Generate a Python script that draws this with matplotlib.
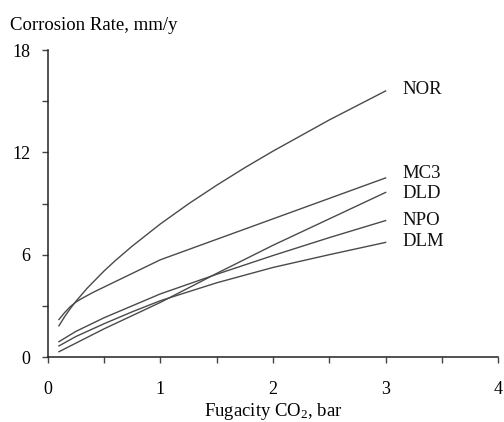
import matplotlib
matplotlib.use("Agg")
import matplotlib.pyplot as plt
from matplotlib.ticker import MultipleLocator

plt.rcParams['font.family'] = ['Liberation Serif', 'DejaVu Serif']
plt.rcParams['mathtext.fontset'] = 'custom'
plt.rcParams['mathtext.rm'] = 'Liberation Serif'
plt.rcParams['mathtext.it'] = 'Liberation Serif:italic'

# fugacity CO2 (bar) and corrosion rate (mm/y)
x_nor = [0.1, 0.15, 0.2, 0.25, 0.35, 0.5, 0.6, 0.75, 1.0, 1.25, 1.5, 1.75, 2.0, 2.5, 3.0]
nor = [1.83, 2.36, 2.83, 3.26, 4.03, 5.04, 5.65, 6.5, 7.8, 8.98, 10.07, 11.1, 12.07, 13.9, 15.6]

x_mc3 = [0.1, 0.15, 0.2, 0.25, 0.3, 0.4, 0.5, 0.75, 1.0, 2.0, 3.0]
mc3 = [2.2, 2.6, 2.95, 3.22, 3.42, 3.78, 4.1, 4.9, 5.7, 8.1, 10.5]

x_dld = [0.1, 0.5, 1.0, 1.5, 2.0, 2.5, 3.0]
dld = [0.31, 1.65, 3.2, 4.9, 6.55, 8.1, 9.65]

x_npo = [0.1, 0.25, 0.5, 0.75, 1.0, 1.5, 2.0, 2.5, 3.0]
npo = [0.9, 1.5, 2.3, 3.0, 3.7, 4.85, 5.95, 7.0, 8.0]

x_dlm = [0.1, 0.25, 0.5, 0.75, 1.0, 1.5, 2.0, 2.5, 3.0]
dlm = [0.65, 1.2, 1.95, 2.65, 3.3, 4.35, 5.25, 6.0, 6.72]

series = [
    ("NOR", x_nor, nor, 15.7),
    ("MC3", x_mc3, mc3, 10.75),
    ("DLD", x_dld, dld, 9.6),
    ("NPO", x_npo, npo, 8.0),
    ("DLM", x_dlm, dlm, 6.75),
]

fig = plt.figure(figsize=(5.04, 4.22), dpi=100)
ax = fig.add_axes([0.0946, 0.154, 0.894, 0.7275])

for name, xs, ys, ylab in series:
    ax.plot(xs, ys, color='#4a4a4a', lw=1.0)
    ax.text(3.15, ylab, name, fontsize=13.5, va='center', ha='left', color='#111111')

ax.set_xlim(0, 4)
ax.set_ylim(0, 18)
ax.xaxis.set_major_locator(MultipleLocator(1))
ax.xaxis.set_minor_locator(MultipleLocator(0.5))
ax.yaxis.set_major_locator(MultipleLocator(6))
ax.yaxis.set_minor_locator(MultipleLocator(3))

for s in ['top', 'right']:
    ax.spines[s].set_visible(False)
for s in ['left', 'bottom']:
    ax.spines[s].set_linewidth(1.1)
    ax.spines[s].set_color('#222222')

ax.tick_params(which='both', direction='out', length=4.3, width=1.0, color='#444444')
ax.tick_params(axis='x', which='major', pad=13, labelsize=13)
ax.tick_params(axis='y', which='major', pad=8, labelsize=13)

fig.text(0.02, 0.94, "Corrosion Rate, mm/y", fontsize=13.5, ha='left', va='center')
ax.set_xlabel("Fugacity CO$_2$, bar", fontsize=13.5, labelpad=2)

fig.savefig("out.png", dpi=100)
